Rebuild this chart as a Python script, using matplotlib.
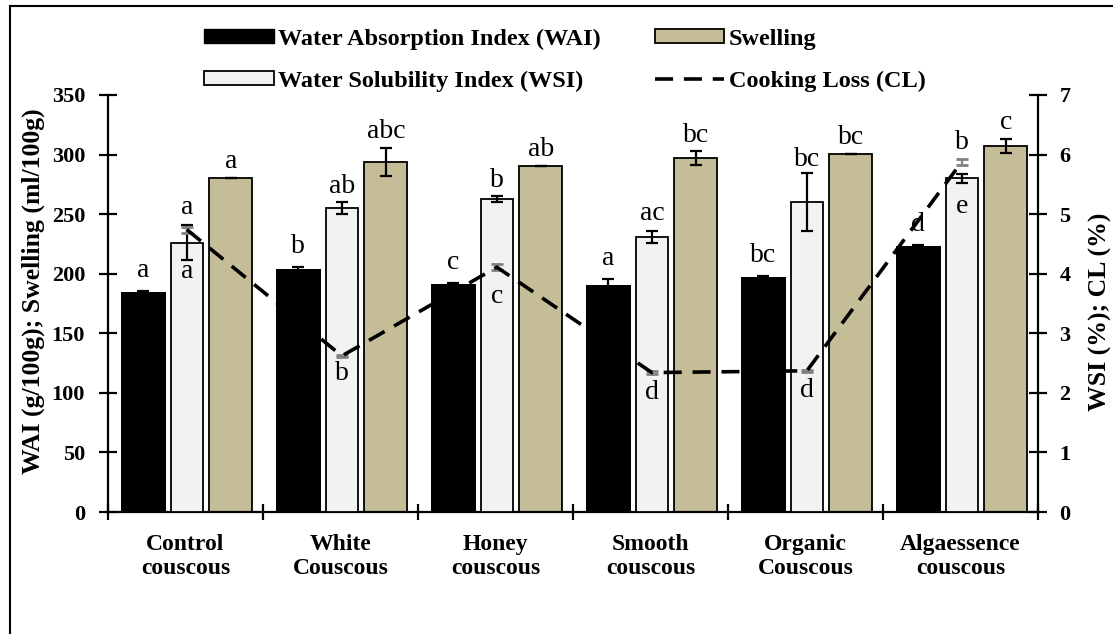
import matplotlib.pyplot as plt
from matplotlib.patches import Patch
from matplotlib.lines import Line2D

plt.rcParams['font.family'] = ['Liberation Serif', 'DejaVu Serif']

categories = ['Control\ncouscous', 'White\nCouscous', 'Honey\ncouscous',
              'Smooth\ncouscous', 'Organic\nCouscous', 'Algaessence\ncouscous']

wai = [184.5, 204, 191.4, 190.5, 197.3, 223.3]
wai_err = [1, 1.5, 0.5, 4.8, 1, 1]
wsi = [4.52, 5.10, 5.25, 4.61, 5.20, 5.60]
wsi_err = [0.29, 0.10, 0.05, 0.10, 0.49, 0.08]
swelling = [280.3, 293.8, 290.4, 297, 300.5, 307]
swelling_err = [0.3, 11.6, 0.3, 5.6, 0.3, 5.9]
cl = [4.74, 2.62, 4.11, 2.34, 2.37, 5.88]
cl_err = [0.05, 0.02, 0.05, 0.03, 0.02, 0.05]

wai_letters = ['a', 'b', 'c', 'a', 'bc', 'd']
wsi_letters = ['a', 'ab', 'b', 'ac', 'bc', 'b']
swelling_letters = ['a', 'abc', 'ab', 'bc', 'bc', 'c']
cl_letters = ['a', 'b', 'c', 'd', 'd', 'e']

# label offsets in points (manual placement like the original)
wsi_lift = [8, 7, 7, 8, 5, 18]
cl_drop = [35, 17, 26, 19, 19, 37]

fig = plt.figure(figsize=(11.13, 6.34), dpi=100)
ax = fig.add_axes([108 / 1113, 1 - 512 / 634, (1038 - 108) / 1113, 417 / 634])
ax2 = ax.twinx()

n = len(categories)
centers = [i + 0.5 for i in range(n)]
x_wai = [c - 0.272 for c in centers]
x_wsi = [c + 0.009 for c in centers]
x_sw = [c + 0.292 for c in centers]

ekw = dict(elinewidth=1.6, capthick=1.6, capsize=4.5, ecolor='black')
ax.bar(x_wai, wai, 0.294, color='black', yerr=wai_err, error_kw=ekw, zorder=2)
ax.bar(x_sw, swelling, 0.278, color='#c4bd97', edgecolor='black', linewidth=1.3,
       yerr=swelling_err, error_kw=ekw, zorder=2)
ax2.bar(x_wsi, wsi, 0.21, color='#f2f2f2', edgecolor='black', linewidth=1.3,
        yerr=wsi_err, error_kw=ekw, zorder=2)
ax2.errorbar(x_wsi, cl, yerr=cl_err, fmt='none', ecolor='#808080',
             elinewidth=1.6, capthick=2, capsize=4.5, zorder=3)
ax2.plot(x_wsi, cl, color='black', lw=2.6, dashes=(5, 3), zorder=4)

lfs = 20
for i in range(n):
    ax.annotate(wai_letters[i], (x_wai[i], wai[i] + wai_err[i]), xytext=(0, 10),
                textcoords='offset points', ha='center', va='baseline', fontsize=lfs)
    ax.annotate(swelling_letters[i], (x_sw[i], swelling[i] + swelling_err[i]),
                xytext=(0, 7), textcoords='offset points', ha='center',
                va='baseline', fontsize=lfs)
    ax2.annotate(wsi_letters[i], (x_wsi[i], wsi[i] + wsi_err[i]),
                 xytext=(0, wsi_lift[i]), textcoords='offset points', ha='center',
                 va='baseline', fontsize=lfs)
    ax2.annotate(cl_letters[i], (x_wsi[i], cl[i]), xytext=(0, -cl_drop[i]),
                 textcoords='offset points', ha='center', va='baseline',
                 fontsize=lfs, zorder=5)

ax.set_xlim(0, n)
ax.set_ylim(0, 350)
ax2.set_ylim(0, 7)
ax.set_yticks(range(0, 351, 50))
ax2.set_yticks(range(0, 8))
ax.set_xticks(range(n + 1))
ax.set_xticklabels([])
ax.set_xticks(centers, minor=True)
ax.set_xticklabels(categories, minor=True, fontsize=17, fontweight='bold',
                   linespacing=1.2)
ax.tick_params(axis='x', which='minor', length=0, pad=16)
ax.tick_params(axis='x', which='major', direction='inout', length=11, width=1.6)
ax.tick_params(axis='y', direction='inout', length=13, width=1.6, pad=10,
               labelsize=16)
ax2.tick_params(axis='y', direction='inout', length=13, width=1.6, pad=9,
                labelsize=16)
for t in ax.get_yticklabels() + ax2.get_yticklabels():
    t.set_fontweight('bold')

for a in (ax, ax2):
    a.spines['top'].set_visible(False)
    for s in ('left', 'right', 'bottom'):
        a.spines[s].set_linewidth(1.6)
ax.spines['right'].set_visible(False)
ax2.spines['left'].set_visible(False)
ax2.spines['bottom'].set_visible(False)

ax.set_ylabel('WAI (g/100g); Swelling (ml/100g)', fontsize=18.5, fontweight='bold')
ax.yaxis.set_label_coords(-0.068, 0.53)
ax2.set_ylabel('WSI (%); CL (%)', fontsize=18.5, fontweight='bold', rotation=90)
ax2.yaxis.set_label_coords(1.055, 0.48)

handles = [Patch(facecolor='black', edgecolor='black'),
           Patch(facecolor='#f2f2f2', edgecolor='black', linewidth=1.3),
           Patch(facecolor='#c4bd97', edgecolor='black', linewidth=1.3),
           Line2D([], [], color='black', lw=2.6, dashes=(5, 3))]
labels = ['Water Absorption Index (WAI)', 'Water Solubility Index (WSI)',
          'Swelling', 'Cooking Loss (CL)']
fig.legend(handles, labels, loc='center', bbox_to_anchor=(565 / 1113, 1 - 60 / 634),
           ncol=2, frameon=False, handlelength=2.85, handleheight=0.5,
           handletextpad=0.2, columnspacing=2.2, labelspacing=0.85,
           prop={'weight': 'bold', 'size': 17.5})

# outer frame (left and top edges visible)
fig.add_artist(Line2D([10 / 1113, 10 / 1113], [0, 1 - 6 / 634], color='black',
                      lw=1.5, transform=fig.transFigure))
fig.add_artist(Line2D([10 / 1113, 1], [1 - 6 / 634, 1 - 6 / 634], color='black',
                      lw=1.5, transform=fig.transFigure))

fig.savefig('out.png', dpi=100)
